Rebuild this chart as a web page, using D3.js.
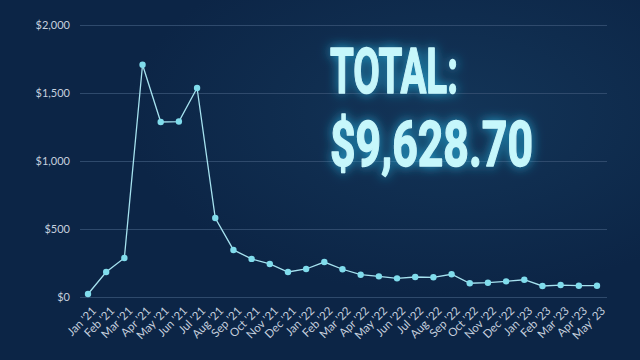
<!DOCTYPE html>
<html>
<head>
<meta charset="utf-8">
<script src="https://cdn.jsdelivr.net/npm/d3@7"></script>
<style>
  html, body { margin: 0; padding: 0; background: #0c2546; }
  svg { display: block; }
</style>
</head>
<body>
<svg id="chart" width="640" height="360"></svg>
<script>
// months from Jan '21 to May '23
const months = ["Jan '21","Feb '21","Mar '21","Apr '21","May '21","Jun '21","Jul '21","Aug '21","Sep '21","Oct '21","Nov '21","Dec '21",
  "Jan '22","Feb '22","Mar '22","Apr '22","May '22","Jun '22","Jul '22","Aug '22","Sep '22","Oct '22","Nov '22","Dec '22",
  "Jan '23","Feb '23","Mar '23","Apr '23","May' 23"];
const amounts = [22, 184, 287, 1708, 1287, 1290, 1537, 581, 346, 280, 243, 184,
  206, 257, 204, 164, 152, 137, 147, 145, 167, 101, 105, 115,
  127, 81, 88, 83, 83];
const yTicks = [0, 500, 1000, 1500, 2000];
const totalLines = ["TOTAL:", "$9,628.70"];

const svg = d3.select("#chart");

const defs = svg.append("defs");
const bg = defs.append("radialGradient").attr("id", "bgGlow")
    .attr("cx", 0.7).attr("cy", 0.32).attr("r", 0.5);
bg.append("stop").attr("offset", "0%").attr("stop-color", "#133558");
bg.append("stop").attr("offset", "100%").attr("stop-color", "#0c2546");

const glow = defs.append("filter").attr("id", "glow")
    .attr("x", "-20%").attr("y", "-40%").attr("width", "140%").attr("height", "180%");
glow.append("feGaussianBlur").attr("in", "SourceAlpha").attr("stdDeviation", 6).attr("result", "blur");
glow.append("feFlood").attr("flood-color", "#28b8e6").attr("flood-opacity", 0.85);
glow.append("feComposite").attr("in2", "blur").attr("operator", "in").attr("result", "halo");
const merge = glow.append("feMerge");
merge.append("feMergeNode").attr("in", "halo");
merge.append("feMergeNode").attr("in", "SourceGraphic");

svg.append("rect").attr("width", 640).attr("height", 360).attr("fill", "#0c2546");
svg.append("rect").attr("width", 640).attr("height", 360).attr("fill", "url(#bgGlow)");

const x = d3.scalePoint().domain(months).range([88, 597]);
const y = d3.scaleLinear().domain([0, 2000]).range([297, 25]);

// gridlines + y labels
const yAxis = svg.append("g")
    .attr("transform", "translate(80,0)")
    .call(d3.axisLeft(y).tickValues(yTicks).tickSize(-527)
        .tickFormat(d => "$" + d3.format(",")(d)));
yAxis.select(".domain").remove();
yAxis.selectAll("line").attr("stroke", "#2f4a6c").attr("stroke-width", 1);
yAxis.selectAll("text")
    .attr("x", -10)
    .attr("fill", "#c6d0de")
    .style("font-family", "Lato, 'Open Sans', sans-serif")
    .style("font-size", "11px");

// x labels
const xAxis = svg.append("g")
    .attr("transform", "translate(0,297)")
    .call(d3.axisBottom(x).tickSize(0));
xAxis.select(".domain").remove();
xAxis.selectAll("text")
    .attr("fill", "#c6d0de")
    .style("font-family", "Lato, 'Open Sans', sans-serif")
    .style("font-size", "11.5px")
    .attr("text-anchor", "end")
    .attr("dy", "0.3em")
    .attr("transform", "translate(4,10) rotate(-45)");

// line + points
svg.append("path")
    .datum(amounts)
    .attr("fill", "none")
    .attr("stroke", "#a6e2ef")
    .attr("stroke-width", 1.3)
    .attr("d", d3.line().x((d, i) => x(months[i])).y(d => y(d)));

svg.append("g").selectAll("circle")
    .data(amounts)
    .join("circle")
    .attr("cx", (d, i) => x(months[i]))
    .attr("cy", d => y(d))
    .attr("r", 3.2)
    .attr("fill", "#80dcec");

// big total text
const big = svg.append("g").attr("filter", "url(#glow)");
big.selectAll("text")
    .data(totalLines)
    .join("text")
    .attr("x", 330)
    .attr("y", (d, i) => i === 0 ? 93 : 166)
    .attr("textLength", (d, i) => i === 0 ? 128 : 203)
    .attr("lengthAdjust", "spacingAndGlyphs")
    .attr("fill", "#c6f7fb")
    .attr("stroke", "#c6f7fb")
    .attr("stroke-width", 1.4)
    .attr("stroke-linejoin", "round")
    .style("font-family", "Roboto, sans-serif")
    .style("font-weight", 700)
    .style("font-size", "63px")
    .text(d => d);
</script>
</body>
</html>
